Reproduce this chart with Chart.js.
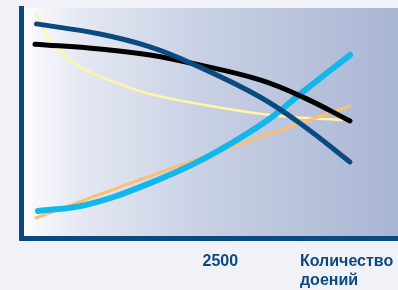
<!DOCTYPE html>
<html><head><meta charset="utf-8">
<style>html,body{margin:0;padding:0;background:#f1f2f7;overflow:hidden}canvas{display:block}</style>
<script src="https://cdn.jsdelivr.net/npm/chart.js@4"></script>
</head><body><canvas id="c" width="398" height="290"></canvas>
<script>
// Tick positions / labels on the x axis
const tickValues = [2500, 3846];
const tickLabels = ['2500', ['Количество', 'доений']];

// Series (x = count, y = relative level 0..100)
const darkBlueX = [207, 1084, 1775, 2396, 3294, 3916, 4537];
const darkBlueY = [93.1, 88.7, 83.1, 75.3, 61.4, 48.4, 33.2];
const blackX = [186, 1084, 1775, 2396, 3294, 3916, 4537];
const blackY = [84.3, 82.2, 79.6, 75.7, 68.8, 60.9, 51.0];
const yellowX = [200, 394, 670, 946, 1360, 1775, 2534, 3432, 4427];
const yellowY = [97.4, 86.1, 77.4, 72.2, 67.0, 62.7, 57.9, 53.6, 51.4];
const orangeX = [200, 1775, 3294, 4537];
const orangeY = [8.9, 27.1, 44.0, 57.5];
const cyanX = [228, 877, 1637, 2534, 3363, 3916, 4537];
const cyanY = [11.9, 14.5, 22.3, 34.9, 50.5, 64.4, 79.6];

const pts = (xs, ys) => xs.map((x, i) => ({x: x, y: ys[i]}));

const bgPlugin = {
  id: 'bg',
  beforeDraw(chart) {
    const {ctx, chartArea: a} = chart;
    const g = ctx.createLinearGradient(a.left, 0, a.right, 0);
    g.addColorStop(0, '#fdfdff');
    g.addColorStop(0.15, '#e6e9f3');
    g.addColorStop(0.5, '#c7cfe3');
    g.addColorStop(1, '#a9b6d4');
    ctx.save();
    ctx.fillStyle = g;
    ctx.fillRect(a.left, a.top, a.right - a.left, a.bottom - a.top);
    ctx.restore();
  }
};

const line = (data, color, w) => ({
  data: data, borderColor: color, borderWidth: w, pointRadius: 0,
  borderCapStyle: 'round', borderJoinStyle: 'round',
  tension: 0.4, fill: false
});

new Chart(document.getElementById('c'), {
  type: 'line',
  data: {
    datasets: [
      line(pts(darkBlueX, darkBlueY), '#0b4a80', 5),
      line(pts(blackX, blackY), '#000000', 5),
      line(pts(cyanX, cyanY), '#12b7ec', 6),
      line(pts(orangeX, orangeY), '#fbbf72', 3),
      line(pts(yellowX, yellowY), '#fff5a4', 2.5)
    ]
  },
  options: {
    responsive: false,
    animation: false,
    layout: {padding: {left: 21.5, top: 8, right: 0, bottom: 0}},
    plugins: {legend: {display: false}, tooltip: {enabled: false}},
    scales: {
      x: {
        type: 'linear', min: 0, max: 5200,
        afterBuildTicks: s => { s.ticks = tickValues.map(v => ({value: v})); },
        afterFit: s => { s.height = 51.5; },
        grid: {display: true, color: 'rgba(0,0,0,0)', drawTicks: true, tickLength: 13, tickColor: 'rgba(0,0,0,0)', drawOnChartArea: false},
        border: {display: true, color: '#0b4a80', width: 5},
        ticks: {
          align: 'start', padding: 0, autoSkip: false, maxRotation: 0,
          color: '#0b4a80',
          font: {family: 'Liberation Sans, Arial, sans-serif', size: 16, weight: 'bold', lineHeight: 1.2},
          callback: v => { const i = tickValues.indexOf(v); return i >= 0 ? tickLabels[i] : ''; }
        }
      },
      y: {
        type: 'linear', min: 0, max: 100,
        afterFit: s => { s.width = 0; },
        grid: {display: false, drawTicks: false},
        border: {display: true, color: '#0b4a80', width: 5},
        ticks: {display: false}
      }
    }
  },
  plugins: [bgPlugin]
});
</script>
</body></html>
